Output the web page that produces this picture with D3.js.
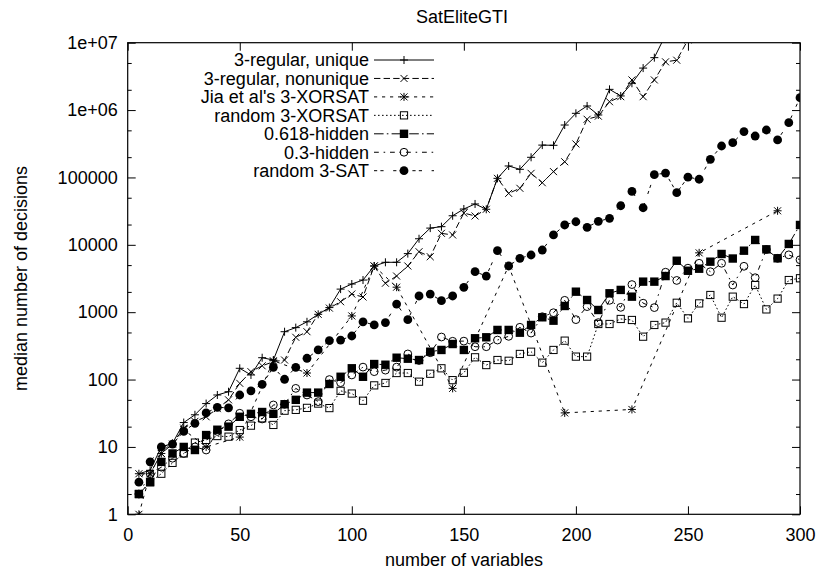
<!DOCTYPE html>
<html>
<head>
<meta charset="utf-8">
<script src="https://cdn.jsdelivr.net/npm/d3@7"></script>
<style>
  body { margin: 0; background: #fff; }
  svg { display: block; }
  text { font-family: "Liberation Sans", Arial, Helvetica, sans-serif; fill: #000; }
</style>
</head>
<body>
<svg id="chart" width="820" height="577"></svg>
<script>
// number of variables
const xs = [5, 10, 15, 20, 25, 30, 35, 40, 45, 50, 55, 60, 65, 70, 75, 80, 85, 90, 95, 100,
  105, 110, 115, 120, 125, 130, 135, 140, 145, 150, 155, 160, 165, 170, 175, 180, 185, 190, 195, 200,
  205, 210, 215, 220, 225, 230, 235, 240, 245, 250, 255, 260, 265, 270, 275, 280, 285, 290, 295, 300];

// median number of decisions, one value per entry of xs (null = no point)
const regularUnique = [4, 4.5, 10, 11.3, 23, 30, 44, 59, 66, 147, 117, 211, 195, 513, 590, 720, 930, 1170, 2200, 2620,
  3000, 4850, 5500, 5500, 7400, 12300, 17700, 18600, 27000, 34000, 40400, 33700, 97000, 148000, 132000, 199000, 302000, 300000, 600000, 895000,
  1150000, 845000, 2030000, 1620000, 2500000, 4200000, 6000000, 13000000, null, null, null, null, null, null, null, null, null, null, null, null];
const regularNonunique = [4, 4, 8, 11, 19, 24, 28, 37, 50, 88, 131, 160, 184, 195, 424, 513, 930, 1150, 1430, 1860,
  1680, 4850, 2690, 3440, 4850, 7900, 6660, 14800, 14000, 29600, 26800, 33700, 97000, 58000, 69000, 115000, 83500, 122000, 171000, 314000,
  730000, 813000, 1330000, 1580000, 2800000, 1580000, 2800000, 5200000, 5500000, 11000000, null, null, null, null, null, null, null, null, null, null];
const randomXorsat = [2, 3, 4, 5.8, 8, 11.6, 12.7, 14.5, 14.2, 17.8, 20.7, 26.6, 21.2, 34.5, 35.5, 38, 44, 37.7, 68, 62,
  48.5, 82, 89, 125, 125, 93, 122, 147, 98, 126, 214, 164, 195, 190, 240, 259, 178, 275, 378, 219,
  219, 668, 668, 793, 766, 433, 646, 700, 1380, 810, 1350, 1800, 828, 1700, 1320, 2530, 1100, 1590, 3000, 3190];
const hidden618 = [2, 3, 6, 8, 10, 9, 15, 18, 20, 28, 31, 33, 31, 43, 50, 64, 64, 86, 110, 147,
  110, 170, 166, 211, 204, 195, 259, 275, 337, 275, 410, 424, 545, 545, 496, 646, 840, 748, 1236, 2015,
  1517, 1078, 1907, 2140, 1700, 2840, 2840, 3440, 5800, 4120, 4420, 5620, 7310, 6260, 8180, 11800, 8570, 6310, 10300, 19700];
const hidden03 = [2, 4, 5, 6.8, 8, 10, 9, 17, 22, 31.6, 28, 26, 42, 43, 74, 59, 47, 100, 90, 117,
  153, 131, 138, 153, 240, 192, 250, 428, 370, 372, 307, 307, 386, 438, 597, 490, 857, 982, 1500, 775,
  1210, 700, 1500, 1180, 2570, 1360, 1170, 3920, 2960, 4500, 5320, 3990, 5320, 2530, 4800, 3250, 8500, 6300, 7100, 6000];
const random3sat = [3, 6, 10, 11, 17, 22.4, 32, 38.7, 38, 59, 68, 85, 152, 101, 152, 207, 275, 378, 386, 443,
  720, 646, 700, 1320, 775, 1740, 1860, 1480, 1740, 2340, 3990, 3440, 8180, 4850, 6300, 7060, 8370, 14000, 19700, 22000,
  18200, 22300, 24700, 38000, 62000, 35500, 110000, 116000, 59400, 101000, 94000, 186000, 293000, 328000, 479000, 412000, 506000, 360000, 650000, 1530000];

// Jia et al's 3-XORSAT has its own sample sizes
const jiaX = [5, 10, 15, 25, 35, 50, 65, 80, 100, 110, 120, 145, 170, 195, 225, 255, 290];
const jiaY = [1, 4, 8, 18, 10, 14, 190, 125, 880, 4850, 2350, 74, 4850, 32, 36, 7600, 32000];

const seriesNames = ['3-regular, unique', '3-regular, nonunique', "Jia et al's 3-XORSAT",
  'random 3-XORSAT', '0.618-hidden', '0.3-hidden', 'random 3-SAT'];
const xTicks = [0, 50, 100, 150, 200, 250, 300];
const yTicks = [1, 10, 100, 1000, 10000, 100000, 1000000, 10000000];
const yTickLabels = ['1', '10', '100', '1000', '10000', '100000', '1e+06', '1e+07'];

const series = [
  { name: seriesNames[0], xv: xs, yv: regularUnique, dash: null, mark: 'plus' },
  { name: seriesNames[1], xv: xs, yv: regularNonunique, dash: '6.4,3.2', mark: 'cross' },
  { name: seriesNames[2], xv: jiaX, yv: jiaY, dash: '3.2,4.8', mark: 'star' },
  { name: seriesNames[3], xv: xs, yv: randomXorsat, dash: '1.6,2.4', mark: 'box' },
  { name: seriesNames[4], xv: xs, yv: hidden618, dash: '9.6,3.2,1.6,3.2', mark: 'fbox' },
  { name: seriesNames[5], xv: xs, yv: hidden03, dash: '4.8,4.8,1.6,4.8', mark: 'circle' },
  { name: seriesNames[6], xv: xs, yv: random3sat, dash: '3.2,3.2,3.2,9.6', mark: 'fcircle' }
];

const plotL = 127.7, plotR = 800, plotT = 42.7, plotB = 514.3;
const svg = d3.select('#chart');
svg.append('rect').attr('width', 820).attr('height', 577).attr('fill', '#fff');

const x = d3.scaleLinear().domain([0, 300]).range([plotL, plotR]);
const y = d3.scaleLog().domain([1, 1e7]).range([plotB, plotT]);

// minor log ticks
const minorTicks = [];
yTicks.slice(0, -1).forEach(d => { minorTicks.push(d * 2, d * 5); });

const fontSize = 18;

// axes: ticks point inward, mirrored on top and right
svg.append('g').attr('transform', `translate(0,${plotB})`)
  .call(d3.axisBottom(x).tickValues(xTicks).tickSizeInner(-8).tickSizeOuter(0).tickPadding(14));
svg.append('g').attr('transform', `translate(0,${plotT})`)
  .call(d3.axisTop(x).tickValues(xTicks).tickSizeInner(-8).tickSizeOuter(0).tickFormat(''));
svg.append('g').attr('transform', `translate(${plotL},0)`)
  .call(d3.axisLeft(y).tickValues(yTicks).tickFormat((d, i) => yTickLabels[i]).tickSizeInner(-8).tickSizeOuter(0).tickPadding(10));
svg.append('g').attr('transform', `translate(${plotR},0)`)
  .call(d3.axisRight(y).tickValues(yTicks).tickFormat('').tickSizeInner(-8).tickSizeOuter(0));
svg.append('g').attr('transform', `translate(${plotL},0)`)
  .call(d3.axisLeft(y).tickValues(minorTicks).tickFormat('').tickSizeInner(-4).tickSizeOuter(0));
svg.append('g').attr('transform', `translate(${plotR},0)`)
  .call(d3.axisRight(y).tickValues(minorTicks).tickFormat('').tickSizeInner(-4).tickSizeOuter(0));
svg.selectAll('.domain').remove();
svg.selectAll('.tick line').attr('stroke', '#000');
svg.selectAll('.tick text').style('font-size', fontSize + 'px').attr('fill', '#000');

svg.append('rect').attr('x', plotL).attr('y', plotT).attr('width', plotR - plotL).attr('height', plotB - plotT)
  .attr('fill', 'none').attr('stroke', '#000').attr('stroke-width', 1.2);

// titles
svg.append('text').attr('x', 462).attr('y', 22.5).attr('text-anchor', 'middle')
  .style('font-size', fontSize + 'px').text('SatEliteGTI');
svg.append('text').attr('x', 464).attr('y', 566).attr('text-anchor', 'middle')
  .style('font-size', fontSize + 'px').text('number of variables');
svg.append('text').attr('transform', 'translate(27,278.5) rotate(-90)').attr('text-anchor', 'middle')
  .style('font-size', fontSize + 'px').text('median number of decisions');

svg.append('clipPath').attr('id', 'plotclip').append('rect')
  .attr('x', plotL).attr('y', plotT).attr('width', plotR - plotL).attr('height', plotB - plotT);

function drawMark(g, type, cx, cy) {
  const s = 4;
  if (type === 'plus' || type === 'star') {
    g.append('path').attr('d', `M${cx - s},${cy}H${cx + s}M${cx},${cy - s}V${cy + s}`)
      .attr('stroke', '#000').attr('fill', 'none');
  }
  if (type === 'cross' || type === 'star') {
    const c = 3.5;
    g.append('path').attr('d', `M${cx - c},${cy - c}L${cx + c},${cy + c}M${cx - c},${cy + c}L${cx + c},${cy - c}`)
      .attr('stroke', '#000').attr('fill', 'none');
  }
  if (type === 'box') {
    g.append('rect').attr('x', cx - 3.6).attr('y', cy - 3.6).attr('width', 7.2).attr('height', 7.2)
      .attr('fill', 'none').attr('stroke', '#000');
  }
  if (type === 'fbox') {
    g.append('rect').attr('x', cx - 4.2).attr('y', cy - 4.2).attr('width', 8.4).attr('height', 8.4)
      .attr('fill', '#000');
  }
  if (type === 'circle') {
    g.append('circle').attr('cx', cx).attr('cy', cy).attr('r', 3.9)
      .attr('fill', 'none').attr('stroke', '#000');
  }
  if (type === 'fcircle') {
    g.append('circle').attr('cx', cx).attr('cy', cy).attr('r', 4.4).attr('fill', '#000');
  }
}

const plot = svg.append('g').attr('clip-path', 'url(#plotclip)');
const line = d3.line().x(d => x(d[0])).y(d => y(d[1]));

series.forEach(s => {
  const pts = s.xv.map((v, i) => [v, s.yv[i]]).filter(d => d[1] != null);
  plot.append('path').datum(pts).attr('d', line)
    .attr('fill', 'none').attr('stroke', '#000').attr('stroke-width', 1)
    .attr('stroke-dasharray', s.dash);
  const g = plot.append('g');
  pts.forEach(d => drawMark(g, s.mark, x(d[0]), y(d[1])));
});

// key
const key = svg.append('g');
series.forEach((s, i) => {
  const ky = 60 + i * 18.45;
  key.append('text').attr('x', 369).attr('y', ky).attr('dy', '0.35em').attr('text-anchor', 'end')
    .style('font-size', fontSize + 'px').text(s.name);
  key.append('line').attr('x1', 374).attr('x2', 434).attr('y1', ky).attr('y2', ky)
    .attr('stroke', '#000').attr('stroke-dasharray', s.dash);
  drawMark(key, s.mark, 404, ky);
});
</script>
</body>
</html>
